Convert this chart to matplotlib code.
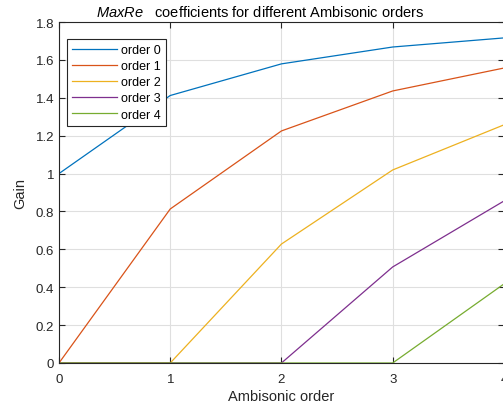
import numpy as np
from matplotlib import pyplot as plt

plt.rcParams['font.family'] = ['Liberation Sans', 'DejaVu Sans']
plt.rcParams['mathtext.fontset'] = 'custom'
plt.rcParams['mathtext.it'] = 'Liberation Sans:italic'
plt.rcParams['mathtext.rm'] = 'Liberation Sans'

# ambisonic orders on x axis
orders = [0, 1, 2, 3, 4]

# maxRe gain per order
order0 = [1.0, 1.412, 1.579, 1.668, 1.716]
order1 = [0.0, 0.813, 1.225, 1.436, 1.557]
order2 = [0.0, 0.0, 0.628, 1.019, 1.257]
order3 = [0.0, 0.0, 0.0, 0.507, 0.855]
order4 = [0.0, 0.0, 0.0, 0.0, 0.417]

series = [order0, order1, order2, order3, order4]
labels = ['order 0', 'order 1', 'order 2', 'order 3', 'order 4']
colors = ['#0072BD', '#D95319', '#EDB120', '#7E2F8E', '#77AC30']

fig = plt.figure(figsize=(5.03, 4.10), dpi=100)
ax = fig.add_axes([0.1173, 0.1122, 0.8845, 0.8317])

for s, lab, c in zip(series, labels, colors):
    ax.plot(orders, s, color=c, lw=0.9, label=lab)

ax.set_xlim(0, 4)
ax.set_ylim(0, 1.8)
ax.set_xticks([0, 1, 2, 3, 4])
ax.set_yticks(np.arange(0, 1.81, 0.2))
ax.set_yticklabels(['0', '0.2', '0.4', '0.6', '0.8', '1', '1.2', '1.4', '1.6', '1.8'])
ax.grid(True, color='#dfdfdf', lw=0.8)
ax.set_axisbelow(True)
ax.tick_params(direction='in', top=True, right=True, length=4, width=0.8,
               colors='#262626', labelsize=9.5)
ax.tick_params(axis='x', pad=7)
for sp in ax.spines.values():
    sp.set_color('#262626')
    sp.set_linewidth(0.8)

ax.set_xlabel('Ambisonic order', fontsize=10.5, color='#262626', labelpad=3)
ax.set_ylabel('Gain', fontsize=10.5, color='#262626', labelpad=6)
ax.set_title(r'$\it{MaxRe}$   coefficients for different Ambisonic orders',
             fontsize=10.5, color='#000000', pad=4, x=0.452)

leg = ax.legend(loc='upper left', bbox_to_anchor=(0.018, 0.95), fontsize=9,
                handlelength=3.6, handletextpad=0.3, labelspacing=0.33,
                borderpad=0.4, borderaxespad=0, fancybox=False,
                edgecolor='#262626', framealpha=1)
leg.get_frame().set_linewidth(0.8)

fig.savefig('out.png', dpi=100)
